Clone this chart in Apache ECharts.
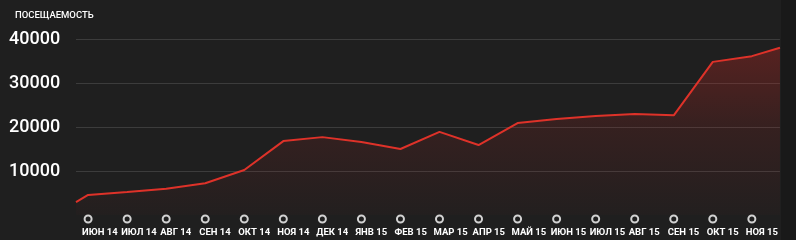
<!DOCTYPE html>
<html>
<head>
<meta charset="utf-8">
<script src="https://cdn.jsdelivr.net/npm/echarts@6/dist/echarts.min.js"></script>
<style>
html,body{margin:0;padding:0;background:#191919;}
#c{width:781px;height:240px;background:#1f1f1f;}
</style>
</head>
<body>
<div id="c"></div>
<script>
const title = 'ПОСЕЩАЕМОСТЬ';
const categories = ['ИЮН 14','ИЮЛ 14','АВГ 14','СЕН 14','ОКТ 14','НОЯ 14','ДЕК 14','ЯНВ 15','ФЕВ 15','МАР 15','АПР 15','МАЙ 15','ИЮН 15','ИЮЛ 15','АВГ 15','СЕН 15','ОКТ 15','НОЯ 15'];
// x positions in month index (0 = ИЮН 14), including partial months at both ends
const pointX = [-0.31, 0, 1, 2, 3, 4, 5, 6, 7, 8, 9, 10, 11, 12, 13, 14, 15, 16, 17, 17.72];
const visits = [2950, 4550, 5230, 5950, 7200, 10230, 16800, 17700, 16600, 15000, 18900, 15900, 20900, 21800, 22500, 22950, 22650, 34800, 36100, 38000];
const yTicks = [0, 10000, 20000, 30000, 40000];

const chart = echarts.init(document.getElementById('c'), null, {renderer:'canvas'});
const catIdx = categories.map((_, i) => i);

chart.setOption({
  backgroundColor: '#1f1f1f',
  animation: false,
  title: {
    text: title, left: 10, top: 6,
    textStyle: {color:'#ffffff', fontFamily:'Roboto', fontSize:9.5, fontWeight:500}
  },
  grid: {left: 76, right: 0, top: 39, bottom: 25, containLabel: false},
  xAxis: {
    type: 'value',
    min: pointX[0], max: pointX[pointX.length - 1],
    axisLine: {show:false}, axisTick: {show:false}, splitLine: {show:false},
    axisLabel: {
      customValues: catIdx,
      hideOverlap: false,
      showMinLabel: true, showMaxLabel: true,
      formatter: v => categories[Math.round(v)] || '',
      color: '#ffffff', fontFamily: 'Roboto', fontSize: 9.5, fontWeight: 'bold',
      align: 'left', padding: [0,0,0,-6], margin: 13
    }
  },
  yAxis: {
    type: 'value',
    min: yTicks[0], max: yTicks[yTicks.length - 1], interval: 10000,
    axisLine: {show:false}, axisTick: {show:false},
    splitLine: {show:true, showMinLine:false, lineStyle:{color:'#3c3c3c', width:1}},
    axisLabel: {
      showMinLabel: false,
      formatter: v => String(v),
      color: '#ffffff', fontFamily: 'Roboto', fontSize: 18, fontWeight: 500,
      align: 'left', margin: 67
    }
  },
  series: [
    {
      type: 'line',
      data: pointX.map((x, i) => [x, visits[i]]),
      showSymbol: false,
      lineStyle: {color:'#de3229', width:2},
      areaStyle: {
        color: new echarts.graphic.LinearGradient(0,0,0,1,[
          {offset:0, color:'rgba(200,40,35,0.47)'},
          {offset:0.5, color:'rgba(200,40,35,0.18)'},
          {offset:1, color:'rgba(200,40,35,0.03)'}
        ])
      },
      z: 2
    },
    {
      type: 'scatter',
      data: catIdx.map(i => [i, 0]),
      symbol: 'circle',
      symbolSize: 7,
      symbolOffset: [0, 4],
      itemStyle: {color:'#1f1f1f', borderColor:'#ffffff', borderWidth:2},
      clip: false,
      silent: true,
      z: 5
    }
  ]
});
</script>
</body>
</html>
